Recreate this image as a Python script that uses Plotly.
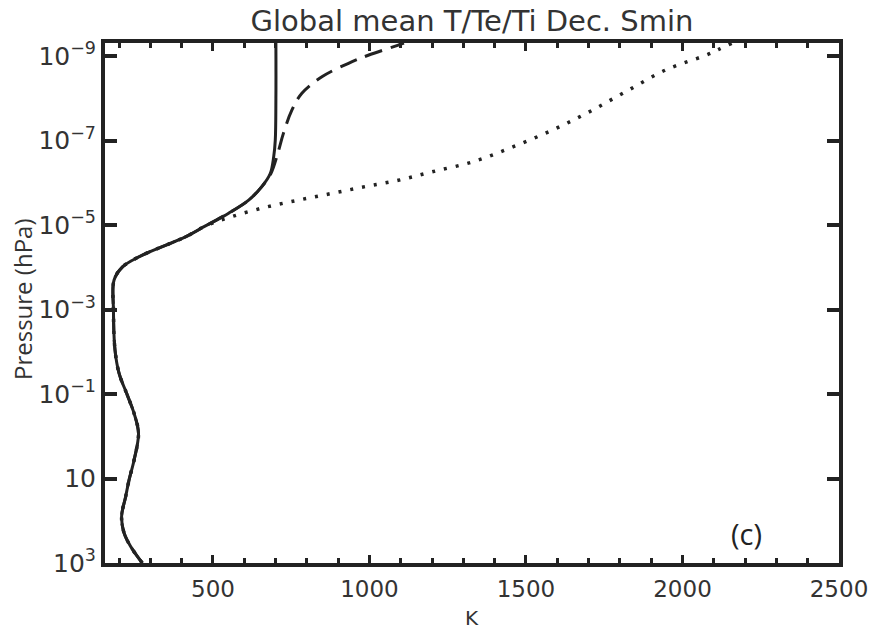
import numpy as np
import plotly.graph_objects as go

# ---- data (log10 pressure in hPa, temperature in K) ----
# common lower-atmosphere profile (shared by T, Te, Ti)
logp_low = [3.0, 2.61, 2.29, 1.9, 1.43, 1.03, 0.56, -0.07, -0.54, -0.98, -1.49,
            -2.04, -2.99, -3.7, -4.01, -4.25, -4.49, -4.72, -4.98]
t_low = [274, 237, 216, 208, 221, 232, 248, 262, 248, 226, 200,
         187, 182, 184, 211, 264, 338, 412, 476]

# neutral temperature T above
logp_T_up = [-5.28, -5.59, -5.91, -6.22, -6.62, -7.01, -8.0, -9.31]
t_T_up = [550, 614, 656, 683, 694, 699, 701, 701]

# electron temperature Te above
logp_Te_up = [-5.28, -5.59, -5.91, -6.22, -6.70, -7.17, -7.72, -8.12, -8.51, -8.83, -9.02, -9.26, -9.31]
t_Te_up = [550, 614, 656, 685, 707, 725, 752, 784, 848, 933, 996, 1092, 1110]

# ion temperature Ti above
logp_Ti_up = [-5.2, -5.42, -5.59, -5.75, -5.91, -6.06, -6.26, -6.50, -6.85, -7.25,
              -7.68, -8.16, -8.67, -9.02, -9.16, -9.31]
t_Ti_up = [560, 667, 773, 880, 986, 1092, 1200, 1331, 1458, 1585,
           1702, 1819, 1946, 2074, 2116, 2159]

ytick_vals = [1e-9, 1e-7, 1e-5, 1e-3, 1e-1, 1e1, 1e3]
ytick_text = ["10<sup>\u22129</sup>", "10<sup>\u22127</sup>", "10<sup>\u22125</sup>",
              "10<sup>\u22123</sup>", "10<sup>\u22121</sup>", "10", "10<sup>3</sup>"]
xtick_vals = [500, 1000, 1500, 2000, 2500]
xtick_text = ["500", "1000", "1500", "2000", "2500"]

title_text = "Global mean T/Te/Ti Dec. Smin"
x_title = "K"
y_title = "Pressure (hPa)"
panel_label = "(c)"


def prof(lp_up, t_up):
    lp = logp_low + lp_up
    t = t_low + t_up
    return t, [10 ** v for v in lp]


ink = "#222222"
txt = "#333333"
fig = go.Figure()

tx, py = prof(logp_Ti_up, t_Ti_up)
fig.add_trace(go.Scatter(x=tx, y=py, mode="lines", line=dict(color=ink, width=3.5, dash="3px,9px", shape="spline"),
                         showlegend=False))
tx, py = prof(logp_Te_up, t_Te_up)
fig.add_trace(go.Scatter(x=tx, y=py, mode="lines", line=dict(color=ink, width=3, dash="18px,9px", shape="spline"),
                         showlegend=False))
tx, py = prof(logp_T_up, t_T_up)
fig.add_trace(go.Scatter(x=tx, y=py, mode="lines", line=dict(color=ink, width=3, shape="spline"),
                         showlegend=False))

tickfont_y = dict(family="DejaVu Sans", size=25, color=txt)
tickfont_x = dict(family="DejaVu Sans", size=23, color=txt)

L, R, T, B = 105, 31, 43, 66
W, H = 870, 629
pw, ph = W - L - R, H - T - B

fig.update_layout(
    width=W, height=H,
    margin=dict(l=L, r=R, t=T, b=B, autoexpand=False),
    paper_bgcolor="white", plot_bgcolor="white",
    title=dict(text=title_text, x=0.5, xref="paper", y=1 - 21 / H, yref="container",
               xanchor="center", yanchor="middle",
               font=dict(family="DejaVu Sans", size=29, color=txt)),
    xaxis=dict(
        range=[155, 2500], showgrid=False, zeroline=False, automargin=False,
        showline=True, linewidth=4, linecolor=ink, mirror="ticks",
        ticks="inside", ticklen=8, tickwidth=3, tickcolor=ink,
        tickvals=xtick_vals, ticktext=xtick_text, tickfont=tickfont_x,
        ticklabelstandoff=2,
        minor=dict(dtick=100, tick0=0, ticks="inside", ticklen=5, tickwidth=3, tickcolor=ink, showgrid=False),
    ),
    yaxis=dict(
        type="log", range=[3, -9.31], showgrid=False, zeroline=False, automargin=False,
        showline=True, linewidth=4, linecolor=ink, mirror="ticks",
        ticks="inside", ticklen=12, tickwidth=4, tickcolor=ink,
        tickvals=ytick_vals, ticktext=ytick_text, tickfont=tickfont_y,
    ),
    annotations=[
        dict(text=panel_label, x=2205, y=2.3, xref="x", yref="y",
             showarrow=False, font=dict(family="Open Sans", size=29, color=ink)),
        dict(text=y_title, x=(22 - L) / pw, y=(H - B - 300) / ph, xref="paper", yref="paper",
             xanchor="center", yanchor="middle", textangle=-90, showarrow=False,
             font=dict(family="Open Sans", size=24, color=txt)),
        dict(text=x_title, x=(472 - L) / pw, y=(H - B - 618) / ph, xref="paper", yref="paper",
             xanchor="center", yanchor="middle", showarrow=False,
             font=dict(family="DejaVu Sans", size=20, color=txt)),
    ],
)

fig.write_html("out.html")
